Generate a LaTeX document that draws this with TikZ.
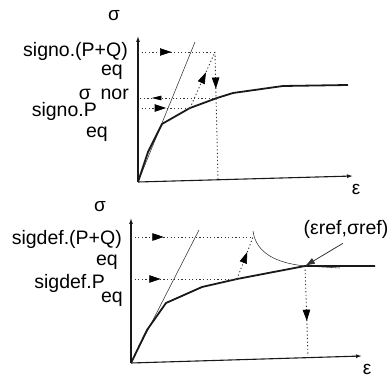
\documentclass[tikz,border=0pt]{standalone}
\usepackage{fontspec}
\setmainfont{Liberation Sans}
\usetikzlibrary{arrows.meta,decorations.markings}

\begin{document}
\begin{tikzpicture}[x=1pt,y=-1pt,
  axis/.style={-{Latex[length=6pt,width=4pt]},draw=black!90,line width=1.1pt},
  curve/.style={draw=black!90,line width=1.8pt,line join=round},
  thin/.style={draw=black!80,line width=0.55pt},
  guide/.style={draw=black!80,line width=0.9pt,dash pattern=on 1.2pt off 2.4pt},
  head/.style={fill=black,draw=black,solid,line width=0.6pt,line join=miter},
  tip/.style={postaction={decorate},decoration={markings,mark=at position #1 with {\path[head] (0pt,0pt) -- (-10pt,3.4pt) -- (-10pt,-3.4pt) -- cycle;}}},
  tipsm/.style={postaction={decorate},decoration={markings,mark=at position #1 with {\path[head] (0pt,0pt) -- (-8pt,2pt) -- (-8pt,-2pt) -- cycle;}}},
  txt/.style={font=\fontsize{19.5}{22}\selectfont,text=black,inner sep=0pt,anchor=base east},
  sym/.style={font=\fontsize{19}{22}\selectfont,text=black,inner sep=0pt},
]
\useasboundingbox (0,0) rectangle (392,379);

% upper diagram: signo
\coordinate (o1) at (138,182);
\coordinate (y1) at (138,36);
\coordinate (x1) at (353,176);
\coordinate (pq1) at (215,52);
\coordinate (nor1) at (217,98);
\coordinate (p1) at (190,108);
\coordinate (foot1) at (218,180);
\draw[axis] (o1) -- (y1);
\draw[axis] (o1) -- (x1);
\draw[thin] (o1) -- (195,42);
\draw[curve] (o1) -- (148,152) -- (162,124) -- (p1) -- (nor1) -- (233,93) -- (283,86) -- (348,85);
\draw[guide,tip=0.42] (o1 |- pq1) -- (pq1);
\draw[guide,tip=0.28] (pq1) -- (foot1);
\draw[guide,tip=0.62] (p1) -- (pq1);
\draw[guide,tipsm=0.81] (nor1) -- (o1 |- nor1);
\draw[guide,tip=0.52] (o1 |- p1) -- (p1);
\node[sym] (s1) at (114,16) {σ};
\node[sym] (e1) at (356,189) {ε};
\node[txt] (pqlab1) at (128,57) {signo.(P+Q)};
\node[txt] (pqeq1) at (123,76) {eq};
\node[txt] (norlab1) at (129,100) {σ\hspace{0.5em}nor};
\node[txt] (plab1) at (97,117) {signo.P};
\node[txt] (peq1) at (108,138) {eq};

% lower diagram: sigdef
\coordinate (o2) at (131,363);
\coordinate (y2) at (131,218);
\coordinate (x2) at (362,356);
\coordinate (pq2) at (253,237);
\coordinate (p2) at (237,279);
\coordinate (ref2) at (305,266);
\coordinate (foot2) at (308,356);
\draw[axis] (o2) -- (y2);
\draw[axis] (o2) -- (x2);
\draw[thin] (o2) -- (199,230);
\draw[thin] (253,231) .. controls (256,253) and (276,263) .. (ref2) -- (340,268);
\draw[curve] (o2) -- (147,330) -- (166,303) -- (202,287) -- (p2) -- (ref2) -- (375,266);
\draw[guide,tip=0.26] (o2 |- pq2) -- (pq2);
\draw[guide,tip=0.27] (o2 |- p2) -- (p2);
\draw[guide,tip=0.62] (p2) -- (pq2);
\draw[guide,tip=0.6] (ref2) -- (foot2);
\node[sym] (s2) at (100,207) {σ};
\node[sym] (e2) at (367,369) {ε};
\node[txt] (pqlab2) at (122,245) {sigdef.(P+Q)};
\node[txt] (pqeq2) at (118,266) {eq};
\node[txt] (plab2) at (105,289) {sigdef.P};
\node[txt] (peq2) at (123,303) {eq};
\node[txt,anchor=center] (ref) at (346,229) {(εref,σref)};
\draw[thin,line width=0.8pt,-{Latex[length=10pt,width=6.5pt]}] ([xshift=-3pt,yshift=-5pt]ref.south) -- (ref2);
\end{tikzpicture}
\end{document}
